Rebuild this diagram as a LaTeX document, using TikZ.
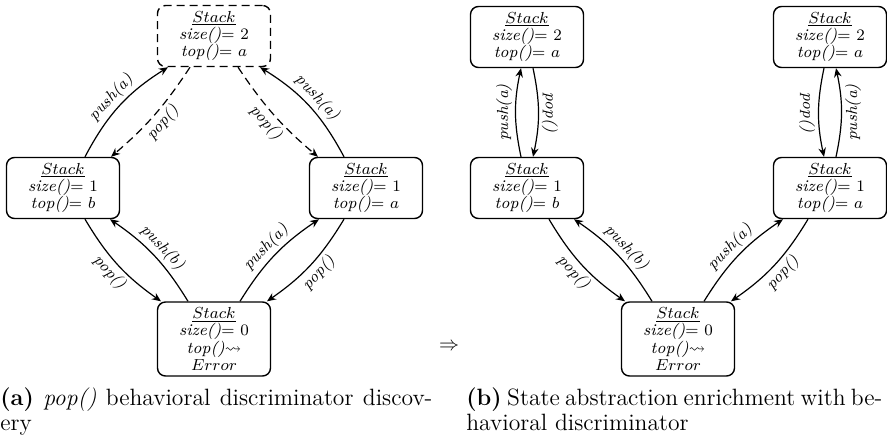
\documentclass[tikz,border=0pt]{standalone}
\usepackage{amssymb}
\usetikzlibrary{arrows.meta}
\newcommand\stnodefont{\fontsize{8.2}{8.7}\selectfont\lineskiplimit=-\maxdimen}
\newcommand\stlabfont{\fontsize{8}{9}\selectfont}
\newcommand\stcapfont{\fontsize{11.8}{12.6}\selectfont}
\begin{document}
\begin{tikzpicture}[x=0.5pt,y=-0.5pt,
  state/.style={draw, rounded corners=4pt, line width=0.7pt, minimum width=56.5pt,
    minimum height=30.5pt, inner sep=0pt, align=center, font=\stnodefont},
  tall/.style={minimum height=37pt},
  dashedstate/.style={dash pattern=on 4pt off 2.5pt},
  tr/.style={-{Stealth[length=4.5pt,width=3.8pt]}, line width=0.6pt},
  dtr/.style={tr, dash pattern=on 4pt off 2.5pt},
  lab/.style={font=\stlabfont, sloped, inner sep=1.5pt},
  captext/.style={anchor=north west, align=left, inner sep=0pt, font=\stcapfont}]
\useasboundingbox (0,0) rectangle (887,440);
% ---------- panel (a)
\node[state,dashedstate] (T) at (214,36) {$\underline{Stack}$\\\textit{size()}$=$\ $2$\\\textit{top()}$=$\ $a$};
\node[state] (L) at (63,188) {$\underline{Stack}$\\\textit{size()}$=$\ $1$\\\textit{top()}$=$\ $b$};
\node[state] (R) at (366,188) {$\underline{Stack}$\\\textit{size()}$=$\ $1$\\\textit{top()}$=$\ $a$};
\node[state,tall] (B) at (214,339) {$\underline{Stack}$\\\textit{size()}$=$\ $0$\\\textit{top()}$\leadsto$\\$Error$};
\draw[tr] ([xshift=11pt]L.north) to[bend left=15] node[lab,above]{\textit{push(a)}} ([xshift=-23pt]T.south);
\draw[dtr] ([xshift=-12pt]T.south) to[bend left=8] node[lab,below]{\textit{pop()}} ([xshift=24pt]L.north);
\draw[dtr] ([xshift=12pt]T.south) to[bend right=8] node[lab,below]{\textit{pop()}} ([xshift=-24pt]R.north);
\draw[tr] ([xshift=-11pt]R.north) to[bend right=15] node[lab,above]{\textit{push(a)}} ([xshift=23pt]T.south);
\draw[tr] ([xshift=11pt]L.south) to[bend right=12] node[lab,below]{\textit{pop()}} ([xshift=-26.5pt]B.north);
\draw[tr] ([xshift=-13pt]B.north) to[bend right=12] node[lab,above]{\textit{push(b)}} ([xshift=23.5pt]L.south);
\draw[tr] ([xshift=13pt]B.north) to[bend left=12] node[lab,above]{\textit{push(a)}} ([xshift=-23.5pt]R.south);
\draw[tr] ([xshift=-11pt]R.south) to[bend left=12] node[lab,below]{\textit{pop()}} ([xshift=26.5pt]B.north);
% ---------- panel (b)
\node[state] (T1) at (527,37) {$\underline{Stack}$\\\textit{size()}$=$\ $2$\\\textit{top()}$=$\ $a$};
\node[state] (M1) at (527,188) {$\underline{Stack}$\\\textit{size()}$=$\ $1$\\\textit{top()}$=$\ $b$};
\node[state] (T2) at (830,37) {$\underline{Stack}$\\\textit{size()}$=$\ $2$\\\textit{top()}$=$\ $a$};
\node[state] (M2) at (830,188) {$\underline{Stack}$\\\textit{size()}$=$\ $1$\\\textit{top()}$=$\ $a$};
\node[state,tall] (B2) at (678,339) {$\underline{Stack}$\\\textit{size()}$=$\ $0$\\\textit{top()}$\leadsto$\\$Error$};
\draw[tr] ([xshift=-3pt]M1.north) to[bend left=12] node[lab,above]{\textit{push(a)}} ([xshift=-3pt]T1.south);
\draw[tr] ([xshift=3pt]T1.south) to[bend left=12] node[lab,above]{\textit{pop()}} ([xshift=3pt]M1.north);
\draw[tr] ([xshift=-3pt]T2.south) to[bend right=12] node[lab,below]{\textit{pop()}} ([xshift=-3pt]M2.north);
\draw[tr] ([xshift=3pt]M2.north) to[bend right=12] node[lab,below]{\textit{push(a)}} ([xshift=3pt]T2.south);
\draw[tr] ([xshift=11pt]M1.south) to[bend right=12] node[lab,below]{\textit{pop()}} ([xshift=-26.5pt]B2.north);
\draw[tr] ([xshift=-13pt]B2.north) to[bend right=12] node[lab,above]{\textit{push(b)}} ([xshift=23.5pt]M1.south);
\draw[tr] ([xshift=13pt]B2.north) to[bend left=12] node[lab,above]{\textit{push(a)}} ([xshift=-23.5pt]M2.south);
\draw[tr] ([xshift=-11pt]M2.south) to[bend left=12] node[lab,below]{\textit{pop()}} ([xshift=26.5pt]B2.north);
% ---------- implication and captions
\node[font=\fontsize{10}{11}\selectfont, inner sep=0pt] (imp) at (449,347) {$\Rightarrow$};
\node[captext] (capa) at (0,387) {\makebox[216pt][s]{\textbf{(a)} \textit{pop()} behavioral discriminator discov-}\\ery};
\node[captext] (capb) at (466,387) {\makebox[208pt][s]{\textbf{(b)} State abstraction enrichment with be-}\\havioral discriminator};
\end{tikzpicture}
\end{document}
